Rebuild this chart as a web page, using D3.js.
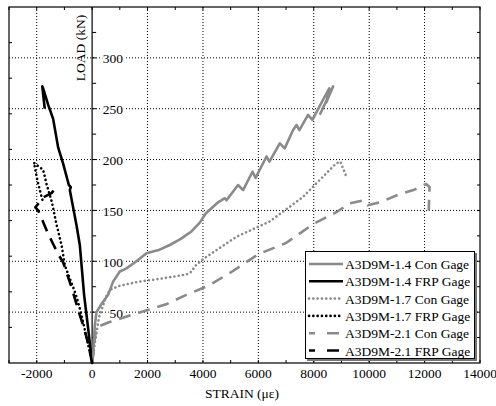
<!DOCTYPE html>
<html>
<head>
<meta charset="utf-8">
<script src="https://cdn.jsdelivr.net/npm/d3@7"></script>
<style>
  body { margin: 0; background: #fff; }
</style>
</head>
<body>
<div id="chart"></div>
<script>
// strain (microstrain) / load (kN) pairs
const con14 = [[0,0],[36,8],[97,37],[158,50],[339,58],[578,67],[758,80],[1000,90],[1241,93],[1600,100],
  [1963,108],[2400,111],[2804,116],[3200,122],[3569,129],[3887,138],[4100,147],[4547,158],[4789,162],
  [4850,160],[5269,175],[5450,170],[5788,188],[5900,182],[6294,203],[6400,198],[6774,216],[6950,211],
  [7254,229],[7376,234],[7480,229],[7795,244],[7950,239],[8398,262],[8560,270],[8450,256],[8700,272],[8217,244]];
const frp14 = [[0,0],[-144,34],[-289,67],[-444,116],[-560,135],[-686,153],[-805,170],[-770,173],[-840,175],
  [-1046,196],[-1227,212],[-1407,240],[-1588,254],[-1768,270],[-1800,272],[-1750,260],[-1710,250]];
const con17 = [[0,0],[100,20],[250,45],[500,65],[650,72],[1000,76],[1700,80],[2500,83],[3400,87],[3600,90],
  [3700,95],[4000,102],[5200,124],[6400,139],[7600,163],[8800,196],[8960,198],[9180,183]];
const frp17 = [[0,0],[-200,25],[-383,47],[-505,60],[-650,72],[-805,83],[-985,96],[-1104,116],[-1300,138],
  [-1450,158],[-1646,176],[-1768,190],[-2068,196],[-2100,197],[-1980,180],[-1850,166],[-1770,158]];
const con21 = [[0,0],[100,25],[160,35],[600,40],[1400,47],[2000,52],[2700,58],[3400,67],[4200,76],[5000,89],
  [6000,107],[7000,118],[8000,137],[8800,148],[9300,157],[9800,160],[9950,155],[10400,158],[11100,166],
  [11600,170],[12050,176],[12180,173],[12150,150]];
const frp21 = [[0,0],[-150,20],[-300,35],[-444,47],[-750,75],[-1046,99],[-1227,107],[-1407,117],[-1588,127],
  [-1790,140],[-1949,150],[-2050,153],[-1750,163],[-1465,167],[-1346,171]];

const seriesNames = ['A3D9M-1.4 Con Gage', 'A3D9M-1.4 FRP Gage', 'A3D9M-1.7 Con Gage',
  'A3D9M-1.7 FRP Gage', 'A3D9M-2.1 Con Gage', 'A3D9M-2.1 FRP Gage'];
const seriesData = [con14, frp14, con17, frp17, con21, frp21];

const xTickValues = [-2000, 0, 2000, 4000, 6000, 8000, 10000, 12000, 14000];
const xGridValues = [-2000, 2000, 4000, 6000, 8000, 10000, 12000];
const yTickValues = [50, 100, 150, 200, 250, 300];
const leftEdgeTicks = [35, 70, 105, 140, 175, 210, 245, 280, 315];

const width = 496;
const height = 406;
const gray = '#8a8a8a';
const serif = '"Liberation Serif", Tinos, "Times New Roman", Times, "DejaVu Serif", serif';
const styles = [
  { color: gray, dash: null },
  { color: '#000', dash: null },
  { color: gray, dash: '0.1,4.2', cap: 'round' },
  { color: '#000', dash: '0.1,4.2', cap: 'round' },
  { color: gray, dash: '12,8' },
  { color: '#000', dash: '12,8' }
];

const svg = d3.select('#chart').append('svg')
  .attr('width', width)
  .attr('height', height)
  .attr('font-family', serif)
  .attr('font-size', 13.5);

const x = d3.scaleLinear().domain([-3000, 14000]).range([9, 480]);
const y = d3.scaleLinear().domain([0, 350]).range([363, 7]);

// dotted grid
svg.append('g')
  .selectAll('line')
  .data(xGridValues)
  .join('line')
  .attr('x1', function(d) { return x(d); })
  .attr('x2', function(d) { return x(d); })
  .attr('y1', y(350)).attr('y2', y(0))
  .attr('stroke', '#000').attr('stroke-width', 1).attr('stroke-dasharray', '1,2');
svg.append('g')
  .selectAll('line')
  .data(yTickValues)
  .join('line')
  .attr('x1', x(-3000)).attr('x2', x(14000))
  .attr('y1', function(d) { return y(d); })
  .attr('y2', function(d) { return y(d); })
  .attr('stroke', '#000').attr('stroke-width', 1).attr('stroke-dasharray', '1,2');

// frame ticks (inside)
const minorX = d3.range(-3000, 14001, 1000);
const minorY = d3.range(25, 350, 25);
const frame = svg.append('g').attr('stroke', '#000').attr('stroke-width', 1);
frame.append('g').selectAll('line').data(minorX).join('line')
  .attr('x1', function(d) { return x(d); }).attr('x2', function(d) { return x(d); })
  .attr('y1', y(350)).attr('y2', y(350) + 3);
frame.append('g').selectAll('line').data(minorX).join('line')
  .attr('x1', function(d) { return x(d); }).attr('x2', function(d) { return x(d); })
  .attr('y1', y(0)).attr('y2', y(0) - 3);
frame.append('g').selectAll('line').data(minorY).join('line')
  .attr('x1', x(14000)).attr('x2', x(14000) - 3)
  .attr('y1', function(d) { return y(d); }).attr('y2', function(d) { return y(d); });
frame.append('g').selectAll('line').data(leftEdgeTicks).join('line')
  .attr('x1', x(-3000)).attr('x2', x(-3000) + 3)
  .attr('y1', function(d) { return y(d); }).attr('y2', function(d) { return y(d); });

// y axis at zero strain
const yAxis = svg.append('g').attr('transform', 'translate(' + x(0) + ',0)');
yAxis.append('line').attr('y1', y(350)).attr('y2', y(0)).attr('stroke', '#000').attr('stroke-width', 1.2);
yAxis.append('g').selectAll('line').data(minorY).join('line')
  .attr('x1', 0).attr('x2', 4)
  .attr('y1', function(d) { return y(d); }).attr('y2', function(d) { return y(d); })
  .attr('stroke', '#000').attr('stroke-width', 1);
yAxis.append('g').selectAll('text').data(yTickValues).join('text')
  .attr('x', 31)
  .attr('y', function(d) { return y(d) + 5.5; })
  .attr('text-anchor', 'end')
  .attr('stroke', '#fff').attr('stroke-width', 3).attr('paint-order', 'stroke')
  .text(function(d) { return d; });

// series lines
const line = d3.line()
  .x(function(d) { return x(d[0]); })
  .y(function(d) { return y(d[1]); });

seriesData.forEach(function(data, i) {
  svg.append('path')
    .datum(data)
    .attr('d', line)
    .attr('fill', 'none')
    .attr('stroke', styles[i].color)
    .attr('stroke-width', 2.6)
    .attr('stroke-linejoin', 'round')
    .attr('stroke-linecap', styles[i].cap || 'butt')
    .attr('stroke-dasharray', styles[i].dash);
});

// legend
const lg = svg.append('g');
lg.append('rect').attr('x', 307).attr('y', 253).attr('width', 170).attr('height', 108)
  .attr('fill', '#777');
lg.append('rect').attr('x', 305.5).attr('y', 251.5).attr('width', 169).attr('height', 107)
  .attr('fill', '#fff').attr('stroke', '#000').attr('stroke-width', 1);
seriesNames.forEach(function(name, i) {
  const ly = 264 + i * 17.3;
  lg.append('line')
    .attr('x1', 309).attr('x2', 343).attr('y1', ly).attr('y2', ly)
    .attr('stroke', styles[i].color)
    .attr('stroke-width', 2.6)
    .attr('stroke-linecap', styles[i].cap || 'butt')
    .attr('stroke-dasharray', styles[i].dash === '12,8' ? '6,12,12,4' : styles[i].dash);
  lg.append('text')
    .attr('x', 345).attr('y', ly + 5)
    .text(name);
});

// outer frame
svg.append('rect')
  .attr('x', x(-3000)).attr('y', y(350))
  .attr('width', x(14000) - x(-3000)).attr('height', y(0) - y(350))
  .attr('fill', 'none').attr('stroke', '#000').attr('stroke-width', 1.2);

// x tick labels
svg.append('g').selectAll('text').data(xTickValues).join('text')
  .attr('x', function(d) { return x(d); })
  .attr('y', 378)
  .attr('text-anchor', 'middle')
  .text(function(d) { return d; });

// axis titles
svg.append('text')
  .attr('x', 242).attr('y', 398)
  .attr('text-anchor', 'middle')
  .text('STRAIN (με)');
svg.append('text')
  .attr('transform', 'translate(85,48) rotate(-90)')
  .attr('text-anchor', 'middle')
  .text('LOAD (kN)');
</script>
</body>
</html>
